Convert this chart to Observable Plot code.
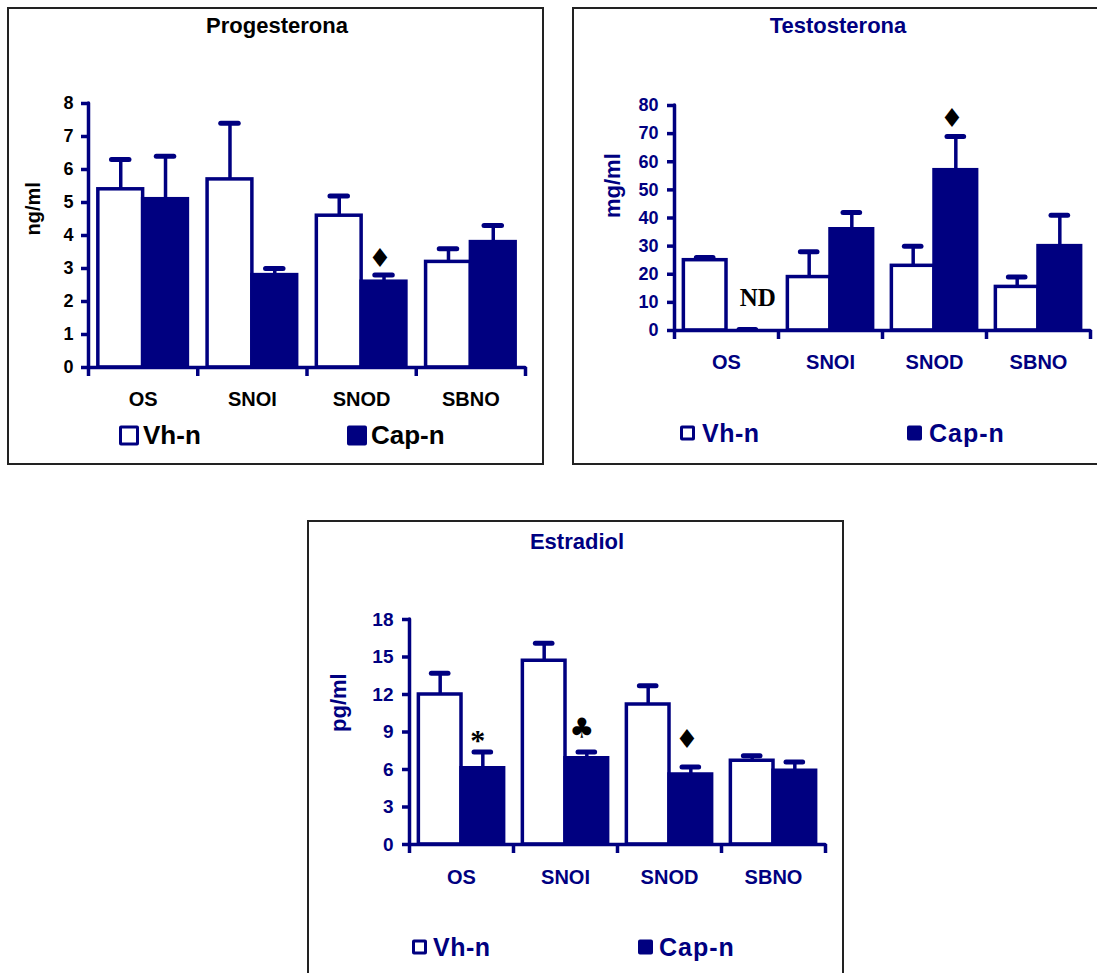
<!DOCTYPE html>
<html>
<head>
<meta charset="utf-8">
<script src="https://cdn.jsdelivr.net/npm/d3@7"></script>
<script src="https://cdn.jsdelivr.net/npm/@observablehq/plot@0.6"></script>
<style>
  body { margin: 0; background: #fff; }
  #page { position: relative; width: 1097px; height: 973px; overflow: hidden; background: #fff;
          font-family: "Liberation Sans", Arial, sans-serif; font-weight: bold; }
  .panel { position: absolute; border: 2px solid #222; box-sizing: border-box; }
  .title { position: absolute; transform: translate(-50%, -50%); font-size: 22px; white-space: nowrap; }
  .chart { position: absolute; }
  .chart svg { overflow: visible; }
  .key { position: absolute; display: flex; align-items: center; transform: translateY(-50%); white-space: nowrap; }
  .swatch { box-sizing: border-box; border: 3px solid #000080; border-radius: 2px; }
</style>
</head>
<body>
<div id="page"></div>
<script>
// Groups and series shared by the three hormone charts
const categories = ["OS", "SNOI", "SNOD", "SBNO"];
const seriesNames = ["Vh-n", "Cap-n"];

// Progesterona, ng/ml: means and tops of the error bars
const progVh = [5.4, 5.7, 4.6, 3.2];
const progVhTop = [6.3, 7.4, 5.2, 3.6];
const progCap = [5.1, 2.8, 2.6, 3.8];
const progCapTop = [6.4, 3.0, 2.8, 4.3];
const progTicks = [0, 1, 2, 3, 4, 5, 6, 7, 8];
const progNotes = [{group: "SNOD", kind: "diamond", text: "♦", y: 3.3}];

// Testosterona, mg/ml (Cap-n in OS not detected)
const testVh = [25, 19, 23, 15.5];
const testVhTop = [26, 28, 30, 19];
const testCap = [0, 36, 57, 30];
const testCapTop = [0.4, 42, 69, 41];
const testTicks = [0, 10, 20, 30, 40, 50, 60, 70, 80];
const testNotes = [
  {group: "OS", kind: "nd", text: "ND", y: 11.4},
  {group: "SNOD", kind: "diamond", text: "♦", y: 75.4}
];

// Estradiol, pg/ml
const estVh = [12.0, 14.7, 11.2, 6.7];
const estVhTop = [13.7, 16.1, 12.7, 7.1];
const estCap = [6.1, 6.9, 5.6, 5.9];
const estCapTop = [7.4, 7.4, 6.2, 6.6];
const estTicks = [0, 3, 6, 9, 12, 15, 18];
const estNotes = [
  {group: "OS", kind: "star", text: "*", y: 8.3},
  {group: "SNOI", kind: "club", text: "♣", y: 9.2},
  {group: "SNOD", kind: "diamond", text: "♦", y: 8.4}
];

const navy = "#000080";
const sans = "'Liberation Sans', Arial, sans-serif";

// Each group occupies one unit on x; the two bars sit side by side inside it
const slotStart = 0.09, slotWidth = 0.41;
const barLeft = d => d.i + slotStart + d.s * slotWidth;
const barRight = d => barLeft(d) + slotWidth;
const barMid = d => barLeft(d) + slotWidth / 2;

function rowsFor(vh, vhTop, cap, capTop) {
  return categories.flatMap((group, i) => [
    {group, i, s: 0, series: seriesNames[0], value: vh[i], top: vhTop[i]},
    {group, i, s: 1, series: seriesNames[1], value: cap[i], top: capTop[i]}
  ]);
}

const noteStyles = {
  diamond: {fontFamily: "'DejaVu Sans', sans-serif", fontSize: 26, dx: -4, fontWeight: "normal"},
  club:    {fontFamily: "'DejaVu Sans', sans-serif", fontSize: 28, dx: -5, fontWeight: "normal"},
  star:    {fontFamily: "'Liberation Serif', serif", fontSize: 30, dx: -5, fontWeight: "bold"},
  nd:      {fontFamily: "'Liberation Serif', serif", fontSize: 25, dx: 10, fontWeight: "bold"}
};

function drawChart(cfg) {
  const rows = rowsFor(...cfg.series);
  const yMax = cfg.ticks[cfg.ticks.length - 1];
  const noteMarks = cfg.notes.map(n => Plot.text([n], {
    x: d => barMid({i: categories.indexOf(d.group), s: 1}),
    y: "y",
    text: "text",
    fill: "black",
    ...noteStyles[n.kind]
  }));
  return Plot.plot({
    width: cfg.width,
    height: cfg.height,
    marginTop: cfg.margins[0],
    marginRight: cfg.margins[1],
    marginBottom: cfg.margins[2],
    marginLeft: cfg.margins[3],
    x: {domain: [0, categories.length]},
    y: {domain: [0, yMax]},
    style: {fontFamily: sans, fontWeight: "bold", background: "transparent", overflow: "visible"},
    marks: [
      // bars
      Plot.rectY(rows, {
        x1: barLeft, x2: barRight, y1: 0, y2: "value",
        fill: d => d.s === 1 ? navy : "white",
        stroke: navy, strokeWidth: 3.5
      }),
      // upward error bars with caps
      Plot.ruleX(rows, {x: barMid, y1: "value", y2: "top", stroke: navy, strokeWidth: 3.5}),
      Plot.ruleY(rows, {
        y: "top", x1: d => barMid(d) - 0.08, x2: d => barMid(d) + 0.08,
        stroke: navy, strokeWidth: 5, strokeLinecap: "round"
      }),
      // axis lines
      Plot.ruleX([0], {y1: 0, y2: yMax, stroke: navy, strokeWidth: 3.5, strokeLinecap: "round"}),
      Plot.ruleY([0], {stroke: navy, strokeWidth: 3.5, strokeLinecap: "round"}),
      Plot.axisY({
        ticks: cfg.ticks, tickSize: 7, tickPadding: cfg.tickPadding, label: null,
        stroke: navy, strokeWidth: 3.5, fill: cfg.ink, fontSize: cfg.tickSize
      }),
      // group boundary ticks
      Plot.axisX({
        ticks: d3.range(categories.length + 1), tickSize: 9, tickFormat: () => "", label: null,
        stroke: navy, strokeWidth: 3.5
      }),
      // group names
      Plot.axisX({
        ticks: categories.map((c, i) => i + 0.5), tickSize: 0, tickPadding: cfg.catPadding,
        tickFormat: v => categories[Math.floor(v)], label: null,
        fill: cfg.ink, fontSize: 20
      }),
      // y-axis title
      Plot.text([cfg.label], {
        frameAnchor: "left", rotate: -90, dx: cfg.labelDx,
        fill: cfg.ink, fontSize: cfg.labelSize, fontWeight: "bold"
      }),
      ...noteMarks
    ]
  });
}

const page = document.getElementById("page");

function addPanel(box) {
  const div = document.createElement("div");
  div.className = "panel";
  Object.assign(div.style, {left: box[0] + "px", top: box[1] + "px", width: box[2] + "px", height: box[3] + "px"});
  page.appendChild(div);
}

function addTitle(text, x, y, color) {
  const t = document.createElement("div");
  t.className = "title";
  t.textContent = text;
  Object.assign(t.style, {left: x + "px", top: y + "px", color});
  page.appendChild(t);
}

function addChart(svg, x, y) {
  const holder = document.createElement("div");
  holder.className = "chart";
  Object.assign(holder.style, {left: x + "px", top: y + "px"});
  holder.appendChild(svg);
  page.appendChild(holder);
}

function addKey(name, filled, x, y, size, gap, fontSize, color, spacing) {
  const k = document.createElement("div");
  k.className = "key";
  Object.assign(k.style, {left: x + "px", top: y + "px", fontSize: fontSize + "px", color, letterSpacing: spacing + "px"});
  const sw = document.createElement("span");
  sw.className = "swatch";
  Object.assign(sw.style, {width: size + "px", height: size + "px", background: filled ? navy : "white", marginRight: gap + "px", display: "inline-block"});
  const label = document.createElement("span");
  label.textContent = name;
  k.appendChild(sw);
  k.appendChild(label);
  page.appendChild(k);
}

// Progesterona
addPanel([7, 7, 537, 458]);
addTitle("Progesterona", 277, 26, "black");
addChart(drawChart({
  series: [progVh, progVhTop, progCap, progCapTop], ticks: progTicks, notes: progNotes,
  width: 536, height: 360, margins: [43, 18, 53, 81],
  ink: "black", tickSize: 18, tickPadding: 8, catPadding: 24,
  label: "ng/ml", labelSize: 20, labelDx: -55
}), 7, 60);
addKey(seriesNames[0], false, 119, 435, 20, 4, 26, "black", 0);
addKey(seriesNames[1], true, 347, 435, 20, 4, 26, "black", 0);

// Testosterona
addPanel([572, 7, 540, 458]);
addTitle("Testosterona", 838, 26, navy);
addChart(drawChart({
  series: [testVh, testVhTop, testCap, testCapTop], ticks: testTicks, notes: testNotes,
  width: 525, height: 340, margins: [45, 7, 70, 102],
  ink: navy, tickSize: 18, tickPadding: 9, catPadding: 24,
  label: "mg/ml", labelSize: 22, labelDx: -62
}), 572, 60);
addKey(seriesNames[0], false, 680, 433, 15, 7, 25, navy, 0.5);
addKey(seriesNames[1], true, 907, 433, 15, 7, 25, navy, 1);

// Estradiol
addPanel([307, 520, 537, 470]);
addTitle("Estradiol", 577, 542, navy);
addChart(drawChart({
  series: [estVh, estVhTop, estCap, estCapTop], ticks: estTicks, notes: estNotes,
  width: 536, height: 340, margins: [44, 18, 71, 102],
  ink: navy, tickSize: 19, tickPadding: 9, catPadding: 25,
  label: "pg/ml", labelSize: 22, labelDx: -71
}), 307, 575);
addKey(seriesNames[0], false, 412, 947, 15, 6, 25, navy, 0.5);
addKey(seriesNames[1], true, 638, 947, 15, 6, 25, navy, 1);
</script>
</body>
</html>
